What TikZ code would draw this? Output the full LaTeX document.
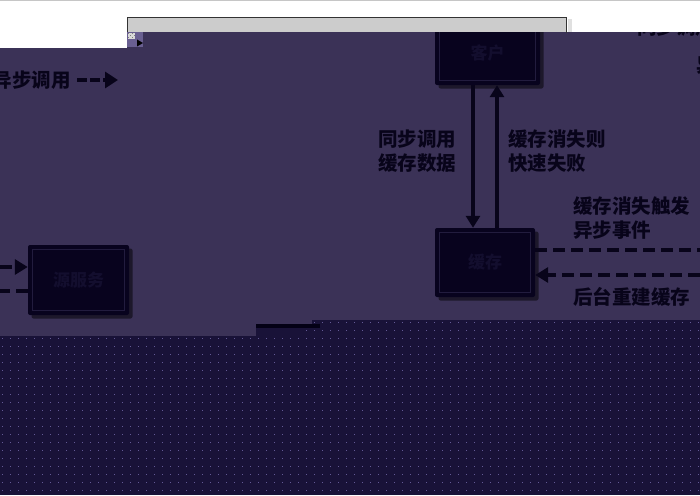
\documentclass[tikz,border=0pt]{standalone}
\usepackage{fontspec}
\newfontfamily\cjk{Noto Sans CJK SC}
\usetikzlibrary{arrows.meta,shadows}
\definecolor{purp}{RGB}{59,50,87}
\definecolor{boxc}{RGB}{8,3,30}
\definecolor{boxline}{RGB}{34,28,62}
\definecolor{boxtxt}{RGB}{19,14,46}
\definecolor{ink}{RGB}{8,4,26}
\definecolor{dotbase}{RGB}{25,18,56}
\definecolor{dotc}{RGB}{100,90,150}
\definecolor{barc}{RGB}{4,1,22}
\definecolor{panel}{RGB}{204,204,204}
\definecolor{iconc}{RGB}{105,95,145}
\begin{document}
\begin{tikzpicture}[x=1pt,y=-1pt,
  boxn/.style={fill=boxc, rounded corners=2pt, inner sep=0pt,
    font=\cjk\bfseries\fontsize{17}{20}\selectfont, text=boxtxt,
    drop shadow={shadow xshift=3.5pt, shadow yshift=-3.5pt, fill=black, opacity=.5}},
  lbl/.style={font=\cjk\bfseries\fontsize{19.5}{23.5}\selectfont, text=ink, inner sep=0pt, align=left},
  arr/.style={line width=3.2pt, draw=ink, -{Triangle[width=14pt,length=12pt]}},
  dsh/.style={line width=3.2pt, draw=ink, dash pattern=on 12pt off 6pt},
  tip/.style={-{Triangle[width=15pt,length=13pt]}}]
\useasboundingbox (0,0) rectangle (700,495);
\clip (0,0) rectangle (700,495);
% background
\fill[purp] (0,0) rectangle (700,495);
% dotted bottom region
\begin{scope}
  \clip (0,336) -- (256,336) -- (256,328) -- (312,328) -- (312,320) -- (700,320) -- (700,495) -- (0,495) -- cycle;
  \fill[dotbase] (0,318) rectangle (700,495);
  \foreach \i in {0,...,87} \foreach \j in {0,...,22}
    \fill[dotc] (\i*8+2, 320+\j*8+2) rectangle ++(1.4,1.4);
\end{scope}
\fill[dotbase] (256,328) rectangle (305,336);
\fill[barc] (256,324) rectangle (320,328);

% boxes
\node[boxn, minimum width=105pt, minimum height=65pt] (cli) at (487.5,52.5) {客户};
\node[boxn, minimum width=100pt, minimum height=69pt] (cache) at (485,262.5) {缓存};
\node[boxn, minimum width=101pt, minimum height=70pt] (src) at (78.5,280) {源服务};
\foreach \n in {cli,cache,src}
  \draw[boxline, line width=0.8pt] ([shift={(5,5)}]\n.north west) rectangle ([shift={(-5,-5)}]\n.south east);

% vertical arrows
\draw[arr] (473,0 |- cli.south) -- (473,0 |- cache.north);
\draw[arr] (497,0 |- cache.north) -- (497,0 |- cli.south);
\node[lbl, anchor=west] (l1) at (378,151) {同步调用\\缓存数据};
\node[lbl, anchor=west] (l2) at (508,151) {缓存消失则\\快速失败};

% right dashed connectors
\coordinate (r1) at (700,250);
\coordinate (r2) at (700,275);
\draw[dsh] (cache.east |- r1) -- (r1);
\draw[dsh, tip] (r2) -- (cache.east |- r2);
\node[lbl, anchor=west] (l3) at (573,218) {缓存消失触发\\异步事件};
\node[lbl, anchor=west] (l4) at (573,297) {后台重建缓存};

% left dashed connectors
\coordinate (s1) at (0,267);
\coordinate (s2) at (0,291);
\draw[dsh, tip] (s1) -- (src.west |- s1);
\draw[dsh] (src.west |- s2) -- (s2);

% legend (left)
\node[lbl, anchor=east] (lg1) at (71,36) {同步调用};
\coordinate (lg1e) at (118,36);
\draw[line width=3.2pt, draw=ink, -{Triangle[width=16pt,length=13pt]}] ([xshift=6]lg1.east) -- (lg1e);
\node[lbl, anchor=east] (lg2) at (71,80) {异步调用};
\coordinate (lg2e) at (118,80);
\draw[line width=3.2pt, draw=ink, dash pattern=on 10pt off 3pt, -{Triangle[width=16pt,length=13pt]}] ([xshift=6]lg2.east) -- (lg2e);
% legend (right, cut)
\node[lbl, anchor=west] (rg1) at (637,27) {同步调用};
\node[lbl, anchor=west] (rg2) at (696,65) {异步调用};

% white top overlays
\fill[white] (0,0) rectangle (127,48);
\fill[white] (127,0) rectangle (700,32);
\fill[gray!45] (0,0) rectangle (700,1.2);
% grey panel
\fill[black!12] (568,19) rectangle (572,32);
\fill[panel] (127,17) rectangle (567,32);
\draw[black!80, line width=1pt] (127.5,33) -- (127.5,17.5) -- (566.5,17.5) -- (566.5,33);
% small icon
\fill[iconc] (127,32) rectangle (143,47);
\fill[white!85!black] (128,33) rectangle (135,39);
\foreach \a/\b in {128/33,130/35,132/33,134/35,128/37,132/37}
  \fill[gray] (\a,\b) rectangle ++(1.2,1.2);
\fill[black] (137,39.5) -- (143,43) -- (137,46.5) -- cycle;
\end{tikzpicture}
\end{document}
